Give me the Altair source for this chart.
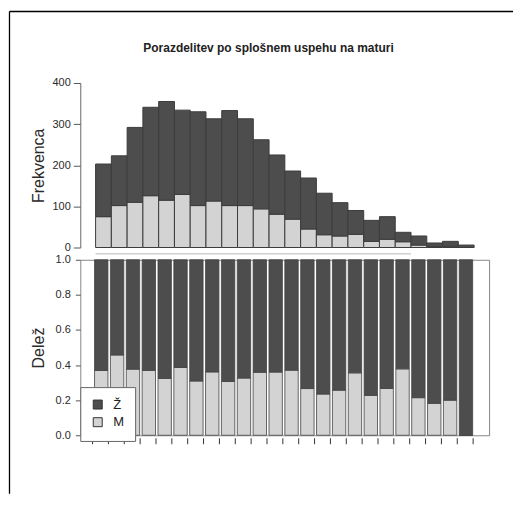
import altair as alt
import pandas as pd

# ---- data ----
scores = list(range(10, 34))
moski = [75, 102, 110, 126, 115, 129, 102, 113, 102, 102, 94, 81, 69, 45, 31, 28, 32, 15, 20, 14, 6, 2, 3, 0]
zenske = [128, 121, 182, 215, 240, 205, 228, 200, 231, 211, 168, 144, 117, 124, 101, 81, 58, 51, 55, 23, 22, 9, 12, 6]
sex_labels = ["Ž", "M"]
x_ticks = list(range(10, 35))
y_top_ticks = [0, 100, 200, 300, 400]
y_bot_ticks = [0.0, 0.2, 0.4, 0.6, 0.8, 1.0]
stub_range = [10, 30]
main_title = "Porazdelitev po splošnem uspehu na maturi"
x_title = "Splošni uspeh na maturi"
y_top_title = "Frekvenca"
y_bot_title = "Delež"

FONT = "Liberation Sans"

rows = []
for s, m, z in zip(scores, moski, zenske):
    t = m + z
    rows.append(dict(score=s, score_end=s + 1, left=s + 0.126, right=s + 0.97,
                     sex="M", n0=0, n1=m, p0=0.0, p1=m / t))
    rows.append(dict(score=s, score_end=s + 1, left=s + 0.126, right=s + 0.97,
                     sex="Ž", n0=m, n1=t, p0=m / t, p1=1.0))
df = pd.DataFrame(rows)
one = pd.DataFrame({"k": [0]})
stub_df = pd.DataFrame({"x": [stub_range[0]], "x2": [stub_range[1]]})
tick_df = pd.DataFrame({"t": x_ticks})

color_scale = alt.Scale(domain=sex_labels, range=["#4d4d4d", "#d3d3d3"])

top_bars = alt.Chart(df).mark_bar(stroke="#3c3c3c", strokeWidth=1).encode(
    x=alt.X("score:Q", scale=alt.Scale(domain=[9.03, 34.95], nice=False, zero=False), axis=None),
    x2="score_end:Q",
    y=alt.Y("n0:Q", scale=alt.Scale(domain=[0, 400], nice=False),
            axis=alt.Axis(values=y_top_ticks, title=y_top_title, tickSize=7, labelPadding=3,
                          titlePadding=6, grid=False)),
    y2="n1:Q",
    color=alt.Color("sex:N", scale=color_scale, legend=None),
)

stub = alt.Chart(stub_df).mark_rule(color="#d0d0d0", strokeWidth=1.5).encode(
    x="x:Q", x2="x2:Q", y=alt.value(171.3)
)

frame_h = alt.Chart(one).mark_rule(color="black", strokeWidth=1.3).encode(
    x=alt.value(-71), x2=alt.value(434), y=alt.value(-71.7)
)
frame_v = alt.Chart(one).mark_rule(color="black", strokeWidth=1.3).encode(
    x=alt.value(-71), y=alt.value(-71.7), y2=alt.value(412)
)
title_text = alt.Chart(one).mark_text(
    text=main_title, font=FONT, fontSize=12, fontWeight="bold",
    align="center", baseline="middle", color="#222"
).encode(x=alt.value(188.8), y=alt.value(-34.7))

top = alt.layer(top_bars, stub, frame_h, frame_v, title_text).properties(
    width=410, height=165, view=alt.ViewConfig(stroke=None)
)

x_scale_bot = alt.Scale(domain=[9.226, 35.006], nice=False, zero=False)
x_axis_bot = alt.Axis(values=x_ticks, labelExpr="datum.value % 2 == 0 ? datum.label : ''",
                      title=x_title, offset=3, domain=False, ticks=True, tickSize=6,
                      tickWidth=1, tickColor="#333", labelPadding=9,
                      labelColor="#2a2a2a", titlePadding=12, grid=False,
                      labelFlush=False, labelOverlap=False)

bottom_bars = alt.Chart(df).mark_bar(stroke="#444", strokeWidth=0.8).encode(
    x=alt.X("left:Q", scale=x_scale_bot, axis=x_axis_bot),
    x2="right:Q",
    y=alt.Y("p0:Q", scale=alt.Scale(domain=[0, 1], nice=False),
            axis=alt.Axis(values=y_bot_ticks, format=".1f", title=y_bot_title, domain=False,
                          tickSize=5, labelPadding=5, titlePadding=9, grid=False)),
    y2="p1:Q",
    color=alt.Color("sex:N", scale=color_scale,
                    legend=alt.Legend(orient="none", legendX=0, legendY=127.7, title=None,
                                      fillColor="white", strokeColor="#666", padding=11,
                                      symbolType="square", symbolSize=81,
                                      symbolStrokeColor="#333", symbolStrokeWidth=1,
                                      labelFontSize=13, labelOffset=9, rowPadding=3.7,
                                      labelFont=FONT, labelColor="#222")),
)

bottom_ticks = alt.Chart(tick_df).mark_rule(color="#333", strokeWidth=1).encode(
    x=alt.X("t:Q", axis=None), y=alt.value(179), y2=alt.value(185)
)

bottom = alt.layer(bottom_bars, bottom_ticks).properties(
    width=410, height=176, view=alt.ViewConfig(stroke="#888", strokeWidth=1)
)

chart = alt.vconcat(top, bottom, spacing=12.3, bounds="flush").resolve_scale(
    x="independent", y="independent", color="independent"
).properties(
    padding={"left": 0.5, "top": 1.5, "right": 2, "bottom": 2}
).configure(font=FONT).configure_axis(
    labelFont=FONT, labelFontSize=11, labelColor="#2a2a2a", tickColor="#555",
    domainColor="#666", titleFont=FONT, titleFontSize=16, titleFontWeight="normal",
    titleColor="#2a2a2a"
)

chart.save("out.html", embed_options={"renderer": "svg", "actions": False})
